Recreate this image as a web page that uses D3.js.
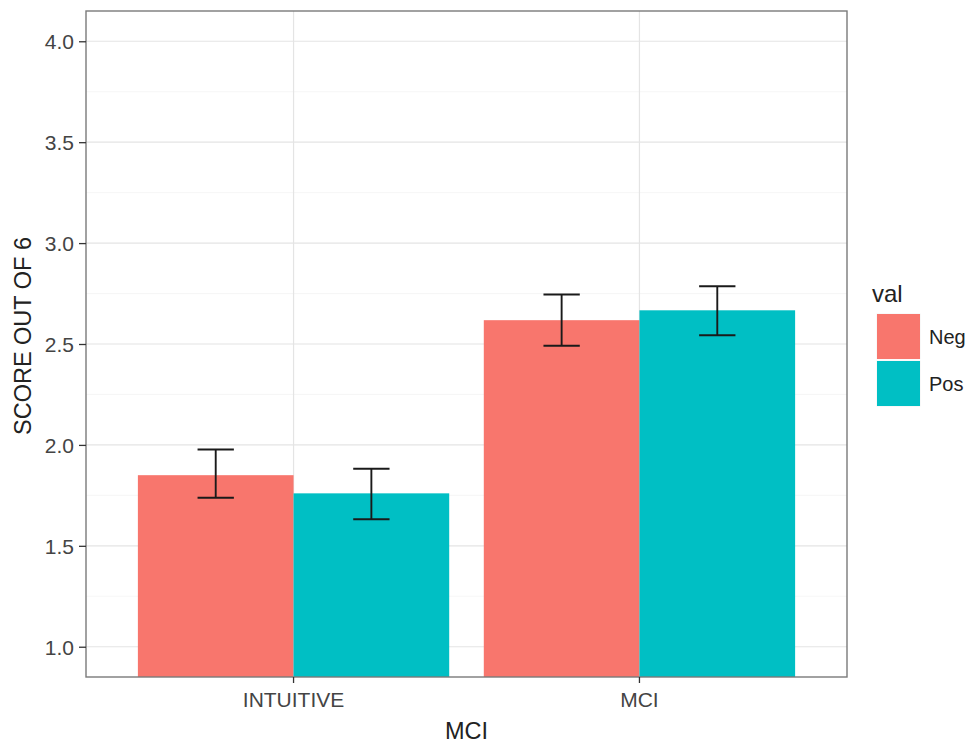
<!DOCTYPE html>
<html><head><meta charset="utf-8">
<script src="https://cdn.jsdelivr.net/npm/d3@7"></script>
<style>body{margin:0;background:#fff;} text{font-family:"Liberation Sans",Arial,sans-serif;}</style>
</head><body><svg id="c" width="973" height="746"></svg>
<script>
const categories = ["INTUITIVE", "MCI"];
const groups = ["Neg", "Pos"];
const negMean = [1.85, 2.618];
const posMean = [1.76, 2.667];
const negLow = [1.738, 2.491];
const negHigh = [1.977, 2.745];
const posLow = [1.632, 2.543];
const posHigh = [1.882, 2.786];
const yTicks = [1.0, 1.5, 2.0, 2.5, 3.0, 3.5, 4.0];
const colors = ["#F8766D", "#00BFC4"];

const svg = d3.select("#c");
const L = 86, R = 847, T = 11, B = 677;
const y = d3.scaleLinear().domain([0.85, 4.15]).range([B, T]);
const xc = d3.scaleLinear().domain([0.4, categories.length + 0.6]).range([L, R]);
const unit = xc(1) - xc(0);

const rows = [];
categories.forEach((c, i) => {
  rows.push({cat: c, i: i, g: 0, mean: negMean[i], lo: negLow[i], hi: negHigh[i]});
  rows.push({cat: c, i: i, g: 1, mean: posMean[i], lo: posLow[i], hi: posHigh[i]});
});

svg.append("rect").attr("x", L).attr("y", T).attr("width", R - L).attr("height", B - T).attr("fill", "#fff");
svg.append("clipPath").attr("id", "pc").append("rect").attr("x", L).attr("y", T).attr("width", R - L).attr("height", B - T);
const pg = svg.append("g").attr("clip-path", "url(#pc)");

const minor = d3.range(0.75, 4.3, 0.5);
pg.selectAll(".mn").data(minor).enter().append("line")
  .attr("x1", L).attr("x2", R).attr("y1", d => y(d)).attr("y2", d => y(d))
  .attr("stroke", "#f2f2f2").attr("stroke-width", 0.7);
pg.selectAll(".mj").data(yTicks).enter().append("line")
  .attr("x1", L).attr("x2", R).attr("y1", d => y(d)).attr("y2", d => y(d))
  .attr("stroke", "#e4e4e4").attr("stroke-width", 1.2);
pg.selectAll(".mjx").data(categories).enter().append("line")
  .attr("x1", (d, i) => xc(i + 1)).attr("x2", (d, i) => xc(i + 1)).attr("y1", T).attr("y2", B)
  .attr("stroke", "#e4e4e4").attr("stroke-width", 1.2);

const bw = 0.45 * unit;
pg.selectAll(".bar").data(rows).enter().append("rect")
  .attr("x", d => xc(d.i + 1) - bw + d.g * bw)
  .attr("width", bw)
  .attr("y", d => y(d.mean))
  .attr("height", d => y(0) - y(d.mean))
  .attr("fill", d => colors[d.g]);

const ew = 0.105 * unit;
const eg = pg.selectAll(".eb").data(rows).enter().append("g");
const cx = d => xc(d.i + 1) - bw / 2 + d.g * bw;
const es = {stroke: "#1a1a1a", w: 1.9};
eg.append("line").attr("x1", cx).attr("x2", cx).attr("y1", d => y(d.lo)).attr("y2", d => y(d.hi))
  .attr("stroke", es.stroke).attr("stroke-width", es.w);
eg.append("line").attr("x1", d => cx(d) - ew / 2).attr("x2", d => cx(d) + ew / 2).attr("y1", d => y(d.hi)).attr("y2", d => y(d.hi))
  .attr("stroke", es.stroke).attr("stroke-width", es.w);
eg.append("line").attr("x1", d => cx(d) - ew / 2).attr("x2", d => cx(d) + ew / 2).attr("y1", d => y(d.lo)).attr("y2", d => y(d.lo))
  .attr("stroke", es.stroke).attr("stroke-width", es.w);

svg.append("rect").attr("x", L).attr("y", T).attr("width", R - L).attr("height", B - T)
  .attr("fill", "none").attr("stroke", "#7a7a7a").attr("stroke-width", 1.4);

const yAxis = d3.axisLeft(y).tickValues(yTicks).tickFormat(d3.format(".1f")).tickSize(7).tickPadding(5);
const ya = svg.append("g").attr("transform", `translate(${L},0)`).call(yAxis);
ya.select(".domain").remove();
ya.selectAll("line").attr("stroke", "#333").attr("stroke-width", 1.3);
ya.selectAll("text").attr("fill", "#444").style("font-size", "21px").attr("dy", "0.36em");

const xa = svg.append("g").attr("transform", `translate(0,${B})`);
const xt = xa.selectAll("g").data(categories).enter().append("g").attr("transform", (d, i) => `translate(${xc(i + 1)},0)`);
xt.append("line").attr("y1", 0).attr("y2", 6).attr("stroke", "#333").attr("stroke-width", 1.3);
xt.append("text").attr("y", 30).attr("text-anchor", "middle").attr("fill", "#444").style("font-size", "21px").text(d => d);

svg.append("text").attr("x", (L + R) / 2).attr("y", 739).attr("text-anchor", "middle")
  .attr("fill", "#222").style("font-size", "23.5px").text("MCI");
svg.append("text").attr("transform", `translate(31,336) rotate(-90)`).attr("text-anchor", "middle")
  .attr("fill", "#222").style("font-size", "23.5px").text("SCORE OUT OF 6");

const lg = svg.append("g");
lg.append("text").attr("x", 872).attr("y", 302).attr("fill", "#222").style("font-size", "24px").text("val");
const ks = 47;
groups.forEach((g, k) => {
  lg.append("rect").attr("x", 876).attr("y", 313 + k * ks).attr("width", 45).attr("height", ks)
    .attr("fill", "#f2f2f2").attr("stroke", "#fff").attr("stroke-width", 1);
  lg.append("rect").attr("x", 877).attr("y", 314 + k * ks).attr("width", 43).attr("height", ks - 2)
    .attr("fill", colors[k]);
  lg.append("text").attr("x", 929).attr("y", 344 + k * ks).attr("fill", "#222").style("font-size", "20px").text(g);
});
</script></body></html>
